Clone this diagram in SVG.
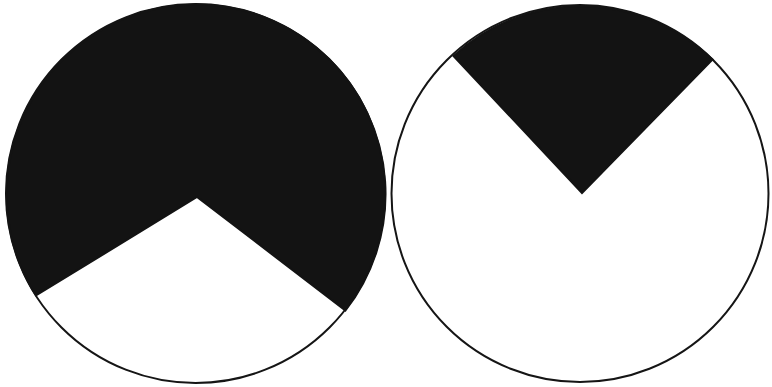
<svg xmlns="http://www.w3.org/2000/svg" width="772" height="387" viewBox="0 0 772 387">
<style>
.disc{fill:#fff;stroke:#151515;stroke-width:2}
.dark{fill:#131313;stroke:#131313;stroke-width:2;stroke-linejoin:miter}
</style>
<rect width="772" height="387" fill="#fff"/>
<g id="left">
<circle class="disc" cx="195.5" cy="193.5" r="189.5"/>
<path class="dark" d="M197,197 L36,295.5 A189.5 189.5 0 1 1 345.5,310.5 Z"/>
</g>
<g id="right">
<circle class="disc" cx="580" cy="193.5" r="188.5"/>
<path class="dark" d="M582,193 L453.5,56 A188.5 188.5 0 0 1 712.5,59.5 Z"/>
</g>
</svg>
